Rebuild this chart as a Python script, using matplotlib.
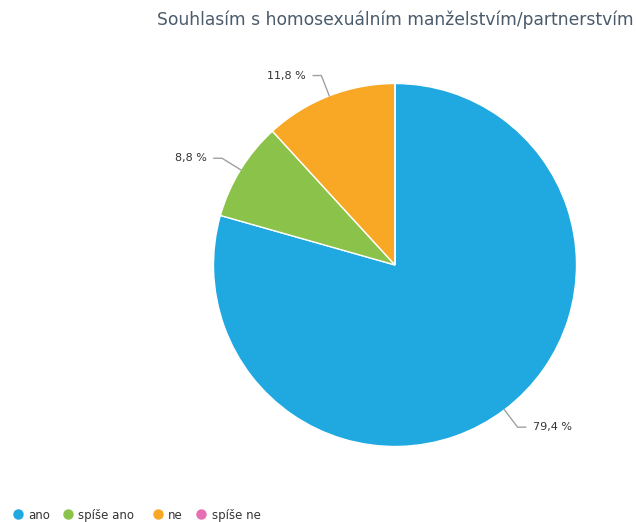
import numpy as np
import matplotlib.pyplot as plt

categories = ["ano", "spíše ano", "ne", "spíše ne"]
shares = [79.4, 8.8, 11.8, 0.0]
colors = ["#20a8e0", "#8bc34a", "#f9a825", "#e76fb3"]
title = "Souhlasím s homosexuálním manželstvím/partnerstvím"

W, H = 636, 522
fig = plt.figure(figsize=(W / 100, H / 100), dpi=100)

# pie centre and radius in pixels
cx, cy, R = 395, 265, 181.5
ax = fig.add_axes([(cx - R) / W, (H - cy - R) / H, 2 * R / W, 2 * R / H])
ax.axis("off")

wedges, _ = ax.pie(shares, colors=colors, startangle=90, counterclock=False,
                   radius=1, center=(0, 0), frame=False,
                   wedgeprops=dict(edgecolor="white", linewidth=1))
ax.set_xlim(-1, 1)
ax.set_ylim(-1, 1)

for w, val in zip(wedges, shares):
    if val <= 0:
        continue
    ang = np.deg2rad((w.theta1 + w.theta2) / 2)
    c, s = np.cos(ang), np.sin(ang)
    x0, y0 = c * 1.0, s * 1.0
    x1, y1 = c * 1.12, s * 1.12
    d = 0.045 if c >= 0 else -0.045
    ax.plot([x0, x1, x1 + d], [y0, y1, y1], color="#a0a0a0", lw=1,
            clip_on=False, solid_joinstyle="round")
    ax.text(x1 + d * 1.9, y1, f"{val:.1f} %".replace(".", ","),
            ha="left" if c >= 0 else "right", va="center",
            fontsize=8, color="#333333", clip_on=False)

fig.text(cx / W, 1 - 20 / H, title, ha="center", va="center",
         fontsize=12.3, color="#4a5b6c")

# legend along the bottom, laid out like the original (pixel positions)
marker_x = [17.5, 68, 157.5, 201]
leg_y = 1 - 514 / H
for mx, lab, col in zip(marker_x, categories, colors):
    fig.add_artist(plt.Line2D([mx / W], [leg_y], marker="o", markersize=6.5,
                              color=col, linestyle="", transform=fig.transFigure))
    fig.text((mx + 10.5) / W, leg_y, lab, ha="left", va="center_baseline",
             fontsize=8.5, color="#333333")

fig.savefig("out.png", dpi=100)
